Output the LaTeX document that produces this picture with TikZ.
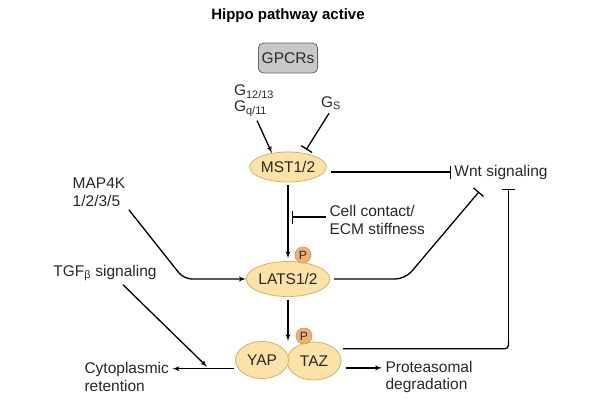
\documentclass[tikz,border=0pt]{standalone}
\usepackage{fontspec}
\setmainfont{Liberation Sans}
\usetikzlibrary{shapes,arrows,arrows.meta}
\definecolor{sand}{RGB}{251,227,168}
\definecolor{ochre}{RGB}{214,176,104}
\definecolor{orangep}{RGB}{240,176,112}
\definecolor{boxgray}{RGB}{200,200,200}
\definecolor{txt}{RGB}{40,40,40}
\tikzstyle{protein} = [draw=ochre, fill=sand, ellipse, line width=0.8pt, inner sep=0pt, text=txt]
\tikzstyle{phos} = [draw=ochre!60!brown, fill=orangep, circle, minimum size=16pt, inner sep=0pt, line width=0.7pt, text=txt, font=\fontsize{12}{12}\selectfont]
\tikzstyle{lbl} = [align=left, text=txt]
\tikzstyle{inhibit} = [-{Bar[width=13pt]}]
\tikzstyle{link} = [line width=1.3pt]

\begin{document}
\begin{tikzpicture}[x=1pt, y=-1pt, >=latex', font=\fontsize{15.5}{17.5}\selectfont]
\useasboundingbox (0,0) rectangle (590,400);

    % title and receptor
    \node [font=\fontsize{15}{17}\selectfont\bfseries] (title) at (288,16) {Hippo pathway active};
    \node [draw=gray!80!black, fill=boxgray, rounded corners=5pt, minimum width=58pt, minimum height=30pt, line width=0.8pt, text=txt] (gpcr) at (288,58) {GPCRs};
    \node [lbl, font=\fontsize{15.5}{16}\selectfont] (gq) at (254,101) {G\textsubscript{12/13}\\G\textsubscript{q/11}};
    \node [lbl] (gs) at (331,103) {G\textsubscript{S}};

    % the kinases
    \node [protein, minimum width=71pt, minimum height=30pt] (mst) at (288,167) {MST1/2};
    \node [protein, minimum width=71pt, minimum height=35pt] (lats) at (288,279) {LATS1/2};
    \node [protein, minimum width=54pt, minimum height=38pt] (taz) at (314,361) {TAZ};
    \node [protein, minimum width=53pt, minimum height=37pt] (yap) at (262,360) {YAP};
    \node [phos] (p1) at (303,255) {P};
    \node [phos] (p2) at (304,336) {P};

    % side labels
    \node [lbl] (wnt) at (501,172) {Wnt signaling};
    \node [lbl, anchor=west] (cell) at (326,220) {Cell contact/\\ECM stiffness};
    \node [lbl] (map) at (99,192) {MAP4K\\1/2/3/5};
    \node [lbl] (tgf) at (105,273) {TGF\textsubscript{β} signaling};
    \node [lbl, anchor=west] (cyto) at (81,377) {Cytoplasmic\\retention};
    \node [lbl, anchor=west] (prot) at (382,377) {Proteasomal\\degradation};
    \coordinate (wntbar) at ([xshift=7.5pt,yshift=-6pt]wnt.south);
    \coordinate (bend) at (taz.30 -| wntbar);
    \coordinate (bendtop) at ([yshift=8pt]bend);

    % connectors
    \draw [link,->] ([xshift=3pt]gq.south) -- (mst.139);
    \draw [link,inhibit, shorten >=4pt] ([xshift=-2pt]gs.south) -- (mst.41);
    \draw [link,inhibit] ([xshift=4pt]mst.east |- wnt.west) -- (wnt.west);
    \draw [link,->, shorten <=3pt, shorten >=3pt] (mst.south) -- (lats.north);
    \draw [link,inhibit] ([yshift=3pt]cell.west) -- ([xshift=4pt,yshift=3pt]mst.south |- cell.west);
    \draw [link,inhibit, rounded corners=10pt, shorten <=4pt] (lats.east) -- ++(75,0) -- ([xshift=-22pt,yshift=-9pt]wnt.south);
    \draw [link,->, rounded corners=8pt] (map.south east) -- ([xshift=-62pt]lats.west) -- (lats.west);
    \draw [link,->, shorten <=3pt] (lats.south) -- (lats.south |- yap.north);
    \draw [link] ([xshift=8pt]taz.30) -- ([xshift=-8pt]bend) .. controls (bend) .. (bendtop);
    \draw [link,inhibit] (bendtop) -- (wntbar);
    \draw [link,->] ([xshift=6pt]taz.-15) -- (taz.-15 -| prot.west);
    \path ([xshift=-4pt]yap.200) -- (yap.200 -| cyto.east) coordinate [pos=0.44] (ret);
    \draw [link,->] ([xshift=-4pt]yap.200) -- (yap.200 -| cyto.east);
    \draw [link,->] ([xshift=18pt]tgf.south) -- ([yshift=2pt]ret);

\end{tikzpicture}
\end{document}
